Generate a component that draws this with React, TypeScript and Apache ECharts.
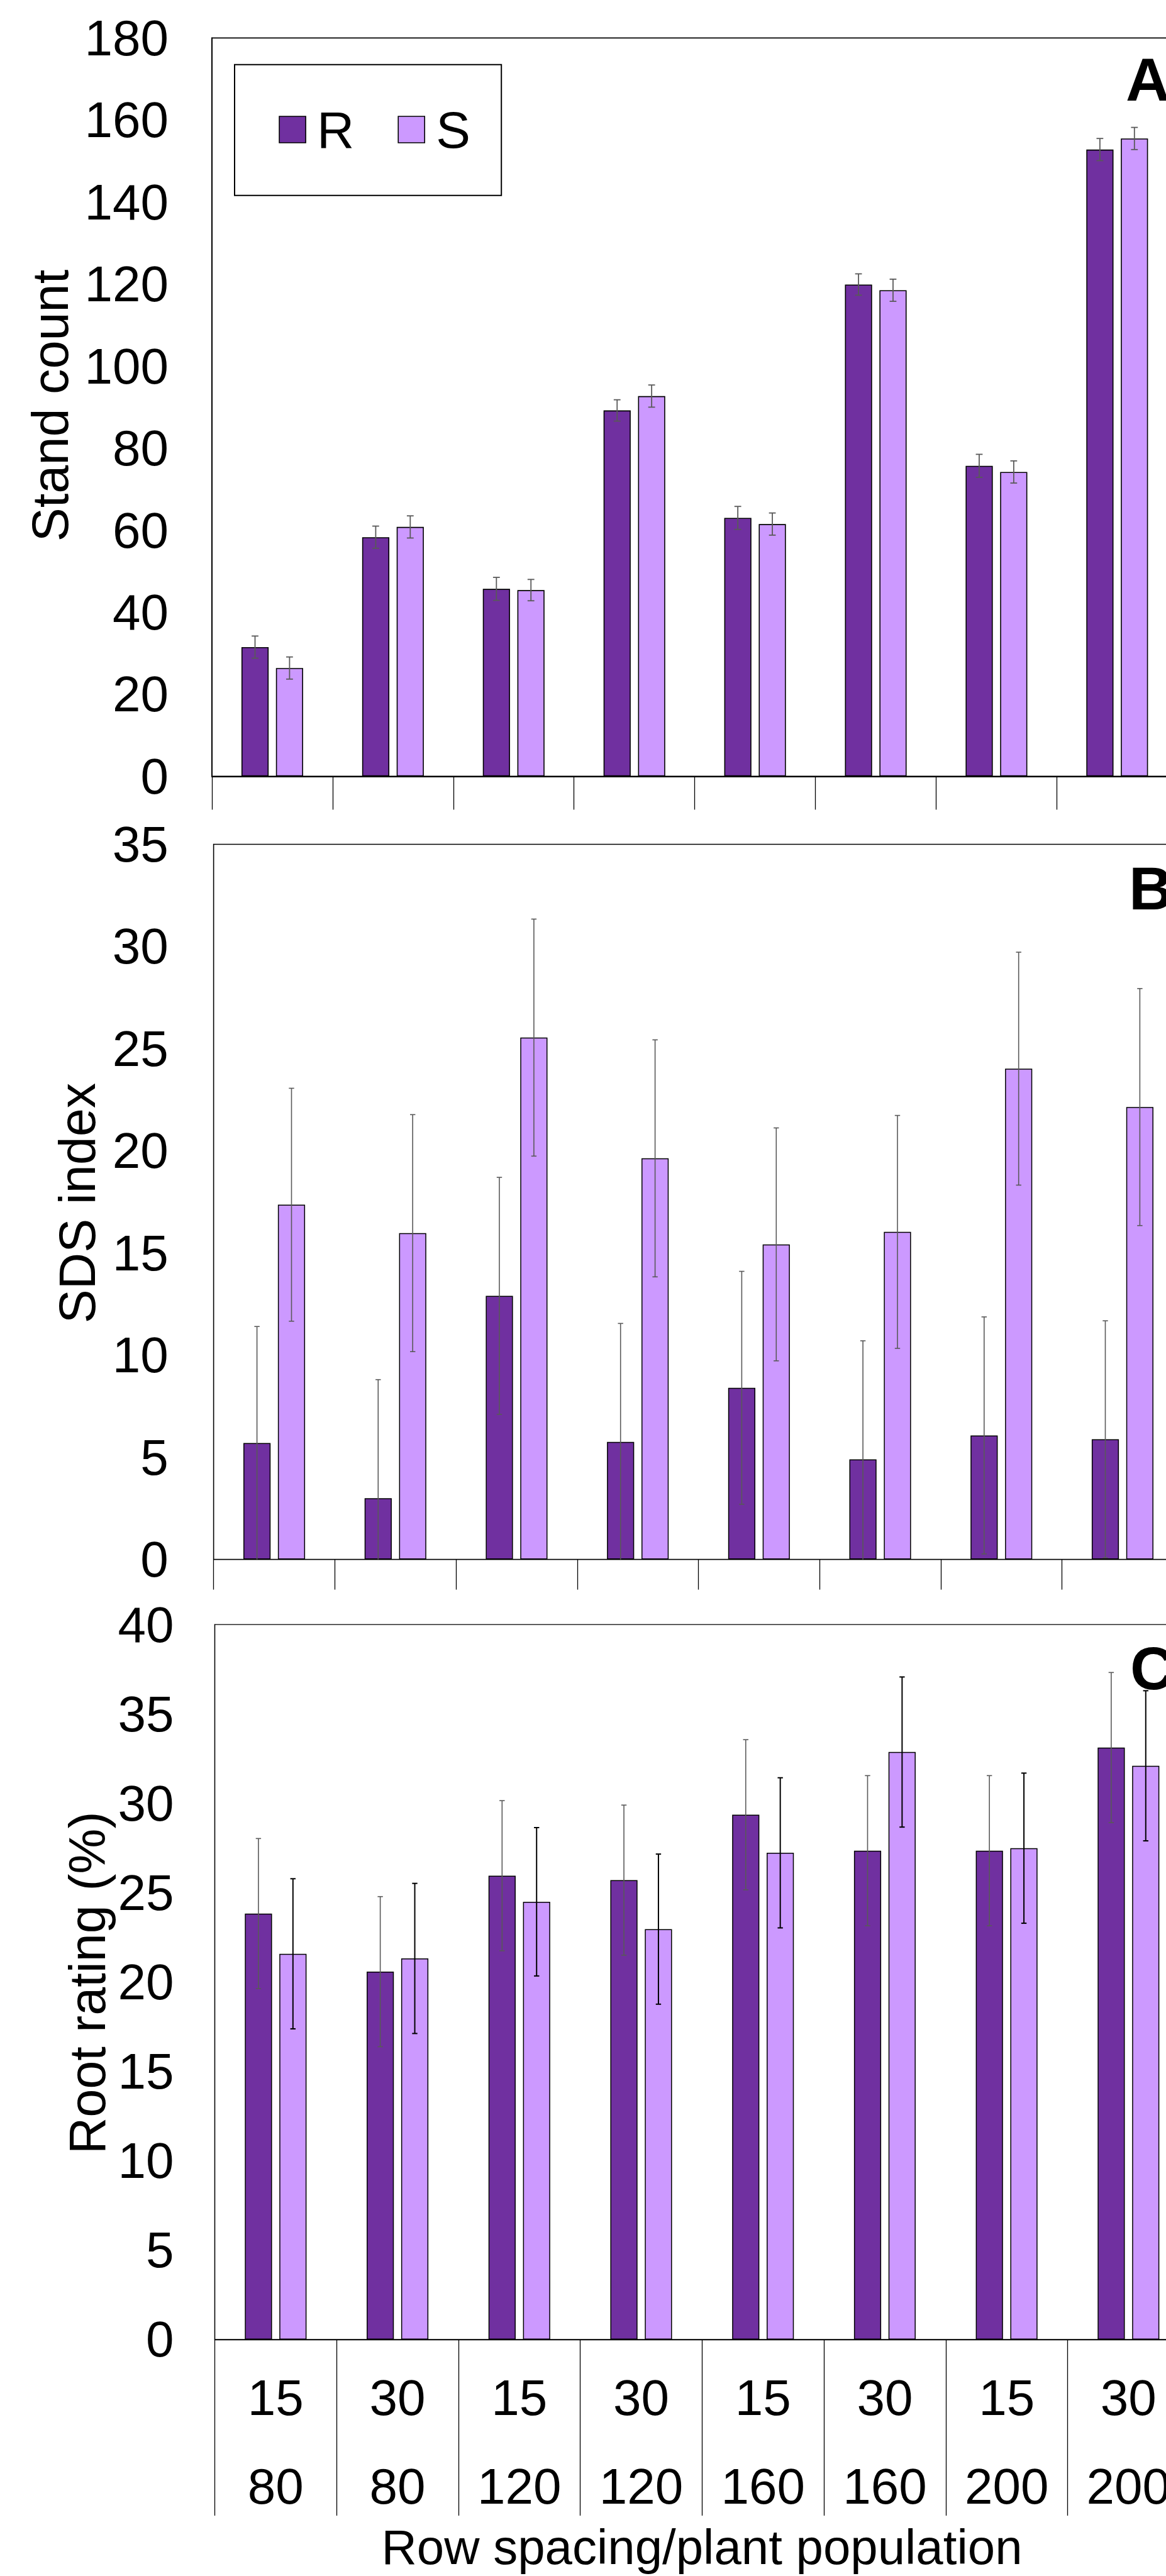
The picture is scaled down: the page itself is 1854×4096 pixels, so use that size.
import React, { useEffect, useRef } from 'react';
import * as echarts from 'echarts';

// Categories: row spacing (cm) / plant population (x1000)
const spacing = ['15', '30', '15', '30', '15', '30', '15', '30'];
const population = ['80', '80', '120', '120', '160', '160', '200', '200'];
const categories = spacing.map((s, i) => s + '\n' + population[i]);

// Panel A: Stand count
const standR = [31.5, 58.3, 45.7, 89.2, 63.0, 119.9, 75.7, 152.8];
const standS = [26.4, 60.8, 45.4, 92.7, 61.5, 118.5, 74.2, 155.5];
const standRErr = [2.7, 2.7, 2.8, 2.6, 2.8, 2.6, 2.8, 2.7];
const standSErr = [2.7, 2.7, 2.6, 2.7, 2.7, 2.7, 2.7, 2.7];

// Panel B: SDS index
const sdsR = [5.7, 3.0, 12.9, 5.75, 8.4, 4.9, 6.07, 5.88];
const sdsS = [17.36, 15.97, 25.54, 19.63, 15.42, 16.03, 24.02, 22.14];
const sdsRErr = [5.7, 5.8, 5.8, 5.8, 5.7, 5.8, 5.8, 5.8];
const sdsSErr = [5.7, 5.8, 5.8, 5.8, 5.7, 5.7, 5.7, 5.8];

// Panel C: Root rating (%)
const rootR = [23.83, 20.58, 25.95, 25.7, 29.36, 27.35, 27.35, 33.12];
const rootS = [21.58, 21.32, 24.49, 22.96, 27.23, 32.87, 27.49, 32.1];
const rootRErr = [4.2, 4.2, 4.2, 4.2, 4.2, 4.2, 4.2, 4.2];
const rootSErr = [4.2, 4.2, 4.15, 4.2, 4.2, 4.2, 4.2, 4.2];

const FONT = "'Liberation Sans', Arial, Helvetica, sans-serif";
const COLOR_R = '#7030A0';
const COLOR_S = '#CC99FF';

const BAR_W = 43.2;
const BAR_GAP = '27%';
const OFFSET = 27.45;

function errRender(offset: number, capHalf: number, color: string, width: number) {
  return (params: any, api: any) => {
    const idx = api.value(0);
    const mean = api.value(1);
    const err = api.value(2);
    const hi = api.coord([idx, mean + err]);
    const lowV = mean - err;
    const lo = api.coord([idx, Math.max(lowV, 0)]);
    const x = hi[0] + offset;
    const style = { stroke: color, lineWidth: width };
    const children: any[] = [
      { type: 'line', shape: { x1: x, y1: hi[1], x2: x, y2: lo[1] }, style },
      { type: 'line', shape: { x1: x - capHalf, y1: hi[1], x2: x + capHalf, y2: hi[1] }, style },
    ];
    if (lowV > 0) {
      children.push({ type: 'line', shape: { x1: x - capHalf, y1: lo[1], x2: x + capHalf, y2: lo[1] }, style });
    }
    return { type: 'group', children };
  };
}

function errData(vals: number[], errs: number[]) {
  return vals.map((v, i) => [i, v, errs[i]]);
}

function barSeries(name: string, data: number[], color: string, idx: number, bw: number) {
  return {
    type: 'bar',
    name,
    data,
    xAxisIndex: idx,
    yAxisIndex: idx,
    barWidth: BAR_W,
    barGap: BAR_GAP,
    itemStyle: { color, borderColor: '#000', borderWidth: bw },
  };
}

function errSeries(vals: number[], errs: number[], idx: number, offset: number, capHalf: number, color: string, width: number) {
  return {
    type: 'custom',
    xAxisIndex: idx,
    yAxisIndex: idx,
    data: errData(vals, errs),
    encode: { x: 0, y: 1 },
    renderItem: errRender(offset, capHalf, color, width),
    z: 5,
  };
}

function textEl(text: string, x: number, y: number, size: number, opts: any = {}) {
  return {
    type: 'text',
    x,
    y,
    rotation: opts.rotation || 0,
    style: {
      text,
      fontSize: size,
      fontFamily: FONT,
      fontWeight: opts.bold ? 'bold' : 'normal',
      fill: '#000',
      align: opts.align || 'center',
      verticalAlign: 'middle',
      textAlign: opts.align || 'center',
      textVerticalAlign: 'middle',
    },
  };
}

export default function App() {
  const ref = useRef<HTMLDivElement>(null);

  useEffect(() => {
    if (!ref.current) return;
    const chart = echarts.init(ref.current, undefined, { renderer: 'svg' });

    const grids = [
      { left: 337, top: 60.4, width: 1535.3, height: 1174.0, lw: 1.8, tick: 53, margin: 69 },
      { left: 339.7, top: 1342.5, width: 1541.6, height: 1137.1, lw: 1.3, tick: 48, margin: 72 },
      { left: 341.5, top: 2583.2, width: 1549.7, height: 1136.7, lw: 1.3, tick: 280, margin: 65 },
    ];
    const yMax = [180, 35, 40];
    const yInt = [20, 5, 5];

    const option: any = {
      animation: false,
      backgroundColor: '#fff',
      grid: grids.map((g) => ({
        left: g.left,
        top: g.top,
        width: g.width,
        height: g.height,
        show: true,
        borderColor: '#000',
        borderWidth: g.lw,
        backgroundColor: 'transparent',
      })),
      xAxis: grids.map((g, i) => ({
        type: 'category',
        gridIndex: i,
        data: categories,
        boundaryGap: true,
        axisLine: { show: true, lineStyle: { color: '#000', width: g.lw } },
        axisTick: { show: true, interval: 0, inside: false, length: g.tick, lineStyle: { color: '#000', width: 1.3 } },
        axisLabel: {
          show: i === 2,
          interval: 0,
          fontSize: 80,
          fontFamily: FONT,
          color: '#000',
          lineHeight: 141,
          margin: 22,
        },
        splitLine: { show: false },
      })),
      yAxis: grids.map((g, i) => ({
        type: 'value',
        gridIndex: i,
        min: 0,
        max: yMax[i],
        interval: yInt[i],
        axisLine: { show: true, lineStyle: { color: '#000', width: g.lw } },
        axisTick: { show: false },
        splitLine: { show: false },
        axisLabel: { fontSize: 80, fontFamily: FONT, color: '#000', margin: g.margin },
      })),
      legend: {
        show: true,
        data: ['R', 'S'],
        left: 373,
        top: 102.7,
        orient: 'horizontal',
        padding: [62.3, 49.3, 63.8, 70.3],
        borderColor: '#000',
        borderWidth: 2,
        backgroundColor: '#fff',
        itemWidth: 42,
        itemHeight: 42,
        itemGap: 69.1,
        icon: 'rect',
        selectedMode: false,
        itemStyle: { borderColor: '#000', borderWidth: 1.6 },
        textStyle: { fontSize: 82, fontFamily: FONT, color: '#000', lineHeight: 82, padding: [0, 0, 0, 13] },
      },
      series: [
        barSeries('R', standR, COLOR_R, 0, 1.6),
        barSeries('S', standS, COLOR_S, 0, 1.6),
        errSeries(standR, standRErr, 0, -OFFSET, 5.4, '#595959', 1.8),
        errSeries(standS, standSErr, 0, OFFSET, 5.4, '#595959', 1.8),
        barSeries('R', sdsR, COLOR_R, 1, 1.5),
        barSeries('S', sdsS, COLOR_S, 1, 1.5),
        errSeries(sdsR, sdsRErr, 1, -OFFSET, 4.2, '#595959', 1.6),
        errSeries(sdsS, sdsSErr, 1, OFFSET, 4.2, '#595959', 1.6),
        barSeries('R', rootR, COLOR_R, 2, 1.5),
        barSeries('S', rootS, COLOR_S, 2, 1.5),
        errSeries(rootR, rootRErr, 2, -OFFSET, 4.2, '#595959', 1.6),
        errSeries(rootS, rootSErr, 2, OFFSET, 4.2, '#000000', 2.0),
      ],
      graphic: [
        textEl('Stand count', 80, 645, 81, { rotation: Math.PI / 2 }),
        textEl('SDS index', 122.5, 1913, 81, { rotation: Math.PI / 2 }),
        textEl('Root rating (%)', 139, 3153, 81, { rotation: Math.PI / 2 }),
        textEl('Row spacing/plant population', 1116, 4050, 78),
        textEl('A', 1790, 126.5, 97, { bold: true, align: 'left' }),
        textEl('B', 1795, 1412, 97, { bold: true, align: 'left' }),
        textEl('C', 1797, 2652.5, 97, { bold: true, align: 'left' }),
      ],
    };

    chart.setOption(option);
    return () => chart.dispose();
  }, []);

  return (
    <div style={{ position: 'absolute', left: 0, top: 0, width: 1854, height: 4096, overflow: 'hidden', background: '#fff' }}>
      <div ref={ref} style={{ width: 1960, height: 4096 }} />
    </div>
  );
}
